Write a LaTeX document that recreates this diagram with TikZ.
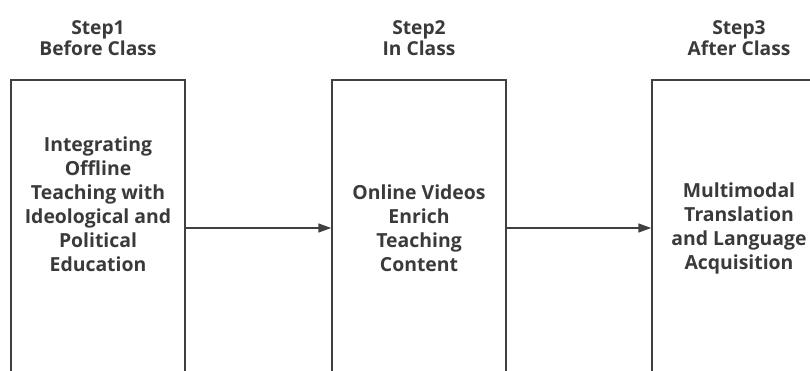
\documentclass[tikz,border=0pt]{standalone}
\usepackage{fontspec}
\setmainfont{Open Sans}
\usepackage{xcolor}
\usetikzlibrary{arrows.meta}
\definecolor{linegray}{HTML}{404040}
\definecolor{textgray}{HTML}{3A3A3A}

\begin{document}
\begin{tikzpicture}[x=1pt,y=-1pt,
    stepbox/.style={rectangle, draw=linegray, line width=1.5pt, minimum width=174pt, minimum height=330pt, inner sep=0pt},
    steptext/.style={align=center, text=textgray, font=\fontsize{19.4}{24}\selectfont\bfseries},
    steptitle/.style={align=center, text=textgray, font=\fontsize{19.2}{21}\selectfont\bfseries},
    flow/.style={draw=linegray, line width=1.5pt, -{Triangle[length=13pt,width=9pt]}}]
		\clip (0,0) rectangle (810,370);

		% First step, before class
		\node (title1) at (98,38) [steptitle] {Step1\\Before Class};
		\node (box1) at (98,245) [stepbox, anchor=center] {};
		\node (text1) at (98,204) [steptext] {Integrating\\Offline\\Teaching with\\Ideological and\\Political\\Education};

		% Second step, in class
		\node (title2) at (419,38) [steptitle] {Step2\\In Class};
		\node (box2) at (419,245) [stepbox] {};
		\node (text2) at (419,228) [steptext] {Online Videos\\Enrich\\Teaching\\Content};

		% Third step, after class
		\node (title3) at (739,38) [steptitle] {Step3\\After Class};
		\node (box3) at (739,245) [stepbox] {};
		\node (text3) at (739,228) [steptext] {Multimodal\\Translation\\and Language\\Acquisition};

		% Connections between the steps
		\draw [flow] (text2 -| box1.east) -- (text2 -| box2.west);
		\draw [flow] (text3 -| box2.east) -- (text3 -| box3.west);
\end{tikzpicture}
\end{document}
